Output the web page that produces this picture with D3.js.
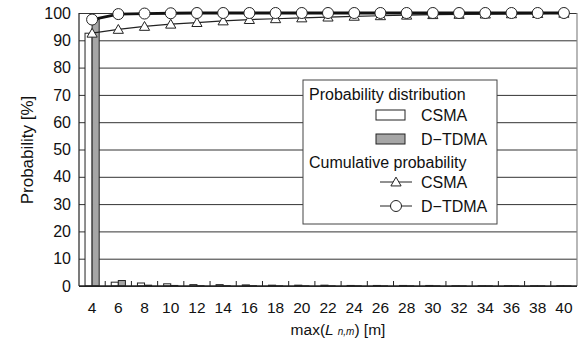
<!DOCTYPE html>
<html>
<head>
<meta charset="utf-8">
<script src="https://cdn.jsdelivr.net/npm/d3@7"></script>
<style>
  body { margin: 0; background: #fff; }
  svg { font-family: "Liberation Sans", Arial, Helvetica, sans-serif; }
</style>
</head>
<body>
<svg id="grafico" width="579" height="344"></svg>
<script>
// distancia max(L n,m) en metros
const categorias = [4, 6, 8, 10, 12, 14, 16, 18, 20, 22, 24, 26, 28, 30, 32, 34, 36, 38, 40];
// distribucion de probabilidad [%]
const distCSMA  = [92.6, 1.4, 1.1, 0.8, 0.5, 0.5, 0.4, 0.3, 0.3, 0.3, 0.2, 0.2, 0.2, 0.2, 0.1, 0.1, 0.1, 0.1, 0.1];
const distDTDMA = [97.6, 2.0, 0.3, 0.2, 0.1, 0.1, 0.1, 0.05, 0.05, 0.05, 0.05, 0.05, 0.05, 0.05, 0.05, 0.05, 0.05, 0.05, 0.05];
// probabilidad acumulada [%]
const acumCSMA  = [92.6, 94.0, 95.1, 95.9, 96.5, 97.1, 97.6, 97.9, 98.2, 98.5, 98.8, 99.0, 99.2, 99.4, 99.5, 99.6, 99.7, 99.8, 99.9];
const acumDTDMA = [97.6, 99.6, 99.8, 99.9, 100, 100, 100, 100, 100, 100, 100, 100, 100, 100, 100, 100, 100, 100, 100];
const ticksY = [0, 10, 20, 30, 40, 50, 60, 70, 80, 90, 100];

const svg = d3.select("#grafico");
const m = { left: 79, right: 577, top: 13, bottom: 286 };

const x = d3.scaleBand().domain(categorias).range([m.left, m.right]);
const y = d3.scaleLinear().domain([0, 100]).range([m.bottom, m.top]);
const xSub = d3.scaleBand().domain(["CSMA", "DTDMA"]).range([0, x.bandwidth()]).paddingOuter(0.85).paddingInner(0);

// rejilla y eje Y
const ejeY = d3.axisLeft(y).tickValues(ticksY).tickSize(-(m.right - m.left)).tickPadding(8);
const gY = svg.append("g").attr("transform", `translate(${m.left},0)`).call(ejeY);
gY.select(".domain").remove();
gY.selectAll(".tick line").attr("stroke", "#333").attr("stroke-width", 1);
gY.selectAll(".tick text").attr("font-size", 16).attr("fill", "#111").attr("font-family", "inherit");

// bordes
svg.append("line").attr("x1", m.left).attr("x2", m.left).attr("y1", m.top).attr("y2", m.bottom)
  .attr("stroke", "#222").attr("stroke-width", 1.2);
svg.append("line").attr("x1", m.right).attr("x2", m.right).attr("y1", m.top).attr("y2", m.bottom)
  .attr("stroke", "#888").attr("stroke-width", 1.2);

// barras
const grupos = svg.append("g").selectAll("g").data(categorias).join("g")
  .attr("transform", d => `translate(${x(d)},0)`);
grupos.append("rect")
  .attr("x", xSub("CSMA")).attr("width", xSub.bandwidth())
  .attr("y", (d, i) => y(distCSMA[i])).attr("height", (d, i) => y(0) - y(distCSMA[i]))
  .attr("fill", "#fff").attr("stroke", "#222").attr("stroke-width", 1);
grupos.append("rect")
  .attr("x", xSub("DTDMA")).attr("width", xSub.bandwidth())
  .attr("y", (d, i) => y(distDTDMA[i])).attr("height", (d, i) => y(0) - y(distDTDMA[i]))
  .attr("fill", "#a6a6a6").attr("stroke", "#222").attr("stroke-width", 1);

// eje X
svg.append("line").attr("x1", m.left).attr("x2", m.right).attr("y1", y(0)).attr("y2", y(0))
  .attr("stroke", "#222").attr("stroke-width", 1.5);
svg.append("g").selectAll("line").data(categorias.slice(1)).join("line")
  .attr("x1", d => x(d)).attr("x2", d => x(d))
  .attr("y1", y(0)).attr("y2", y(0) - 5)
  .attr("stroke", "#222");
const ejeX = d3.axisBottom(x).tickSize(0).tickPadding(16);
const gX = svg.append("g").attr("transform", `translate(0,${y(0)})`).call(ejeX);
gX.select(".domain").remove();
gX.selectAll(".tick text").attr("font-size", 15.5).attr("fill", "#111").attr("font-family", "inherit");

// lineas acumuladas
const cx = d => x(d) + x.bandwidth() / 2;
const lineaCSMA = d3.line().x(d => cx(d)).y((d, i) => y(acumCSMA[i]));
const lineaDTDMA = d3.line().x(d => cx(d)).y((d, i) => y(acumDTDMA[i]));
svg.append("path").datum(categorias).attr("d", lineaCSMA)
  .attr("fill", "none").attr("stroke", "#222").attr("stroke-width", 1.2);
svg.append("path").datum(categorias).attr("d", lineaDTDMA)
  .attr("fill", "none").attr("stroke", "#111").attr("stroke-width", 2.8);

const triangulo = d3.symbol().type(d3.symbolTriangle).size(45);
svg.append("g").selectAll("path").data(categorias).join("path")
  .attr("d", triangulo)
  .attr("transform", (d, i) => `translate(${cx(d)},${y(acumCSMA[i]) + 1})`)
  .attr("fill", "#fff").attr("stroke", "#222").attr("stroke-width", 1);
svg.append("g").selectAll("circle").data(categorias).join("circle")
  .attr("cx", d => cx(d)).attr("cy", (d, i) => y(acumDTDMA[i])).attr("r", 5.5)
  .attr("fill", "#fff").attr("stroke", "#222").attr("stroke-width", 1);

// titulos
svg.append("text").attr("transform", "translate(33,150) rotate(-90)")
  .attr("text-anchor", "middle").attr("font-size", 17).attr("fill", "#111")
  .text("Probability [%]");
const tx = svg.append("text").attr("x", 338).attr("y", 335).attr("text-anchor", "middle")
  .attr("font-size", 15.5).attr("fill", "#111");
tx.append("tspan").text("max(");
tx.append("tspan").attr("font-style", "italic").text("L ");
tx.append("tspan").attr("font-style", "italic").attr("font-size", 10).text("n,m");
tx.append("tspan").text(") [m]");

// leyenda
const ley = svg.append("g");
ley.append("rect").attr("x", 303).attr("y", 80).attr("width", 194).attr("height", 144)
  .attr("fill", "#fff").attr("stroke", "#444").attr("stroke-width", 1);
const txt = (xx, yy, s) => ley.append("text").attr("x", xx).attr("y", yy)
  .attr("dominant-baseline", "central").attr("font-size", 16).attr("fill", "#111").text(s);
txt(309, 94, "Probability distribution");
ley.append("rect").attr("x", 376).attr("y", 110).attr("width", 29).attr("height", 10)
  .attr("fill", "#fff").attr("stroke", "#222");
txt(421, 115, "CSMA");
ley.append("rect").attr("x", 376).attr("y", 134).attr("width", 29).attr("height", 10)
  .attr("fill", "#a6a6a6").attr("stroke", "#222");
txt(421, 139, "D\u2212TDMA");
txt(309, 162, "Cumulative probability");
ley.append("line").attr("x1", 380).attr("x2", 412).attr("y1", 182).attr("y2", 182).attr("stroke", "#222");
ley.append("path").attr("d", triangulo).attr("transform", "translate(396,183)")
  .attr("fill", "#fff").attr("stroke", "#222");
txt(421, 182, "CSMA");
ley.append("line").attr("x1", 380).attr("x2", 412).attr("y1", 206).attr("y2", 206).attr("stroke", "#222");
ley.append("circle").attr("cx", 396).attr("cy", 206).attr("r", 5.5)
  .attr("fill", "#fff").attr("stroke", "#222");
txt(421, 206, "D\u2212TDMA");
</script>
</body>
</html>
